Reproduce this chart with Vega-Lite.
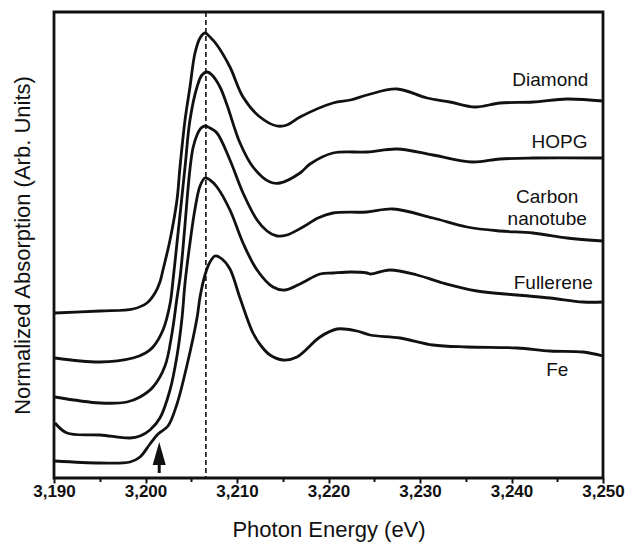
{
  "$schema": "https://vega.github.io/schema/vega-lite/v6.json",
  "width": 549,
  "height": 466,
  "autosize": {"type": "none"},
  "padding": {"left": 54, "top": 12, "right": 25, "bottom": 64},
  "config": {
    "view": {"stroke": "#111", "strokeWidth": 2.8},
    "font": "Liberation Sans",
    "axis": {"grid": false, "domain": false, "titleFontWeight": "normal", "titleColor": "#111", "labelColor": "#111", "tickColor": "#111"}
  },
  "datasets": {
    "curves": [
      {"s": "Diamond", "x": 3190.11, "y": 165}, {"s": "Diamond", "x": 3195.03, "y": 167}, {"s": "Diamond", "x": 3198.63, "y": 169}, {"s": "Diamond", "x": 3200.16, "y": 175}, {"s": "Diamond", "x": 3201.04, "y": 185}, {"s": "Diamond", "x": 3201.58, "y": 196}, {"s": "Diamond", "x": 3201.91, "y": 208}, {"s": "Diamond", "x": 3202.68, "y": 238}, {"s": "Diamond", "x": 3203.44, "y": 278}, {"s": "Diamond", "x": 3203.77, "y": 311}, {"s": "Diamond", "x": 3204.32, "y": 358}, {"s": "Diamond", "x": 3204.86, "y": 391}, {"s": "Diamond", "x": 3205.41, "y": 425}, {"s": "Diamond", "x": 3205.96, "y": 440}, {"s": "Diamond", "x": 3206.5, "y": 445}, {"s": "Diamond", "x": 3207.05, "y": 441}, {"s": "Diamond", "x": 3207.81, "y": 433}, {"s": "Diamond", "x": 3209.23, "y": 411}, {"s": "Diamond", "x": 3210.66, "y": 381}, {"s": "Diamond", "x": 3212.51, "y": 361}, {"s": "Diamond", "x": 3214.37, "y": 352}, {"s": "Diamond", "x": 3215.46, "y": 353}, {"s": "Diamond", "x": 3216.89, "y": 361}, {"s": "Diamond", "x": 3220.49, "y": 375}, {"s": "Diamond", "x": 3222.4, "y": 378}, {"s": "Diamond", "x": 3224.21, "y": 383}, {"s": "Diamond", "x": 3227.49, "y": 389}, {"s": "Diamond", "x": 3230.77, "y": 380}, {"s": "Diamond", "x": 3233.28, "y": 376}, {"s": "Diamond", "x": 3236.01, "y": 371}, {"s": "Diamond", "x": 3238.74, "y": 375}, {"s": "Diamond", "x": 3242.35, "y": 376}, {"s": "Diamond", "x": 3246.07, "y": 379}, {"s": "Diamond", "x": 3250, "y": 377},
      {"s": "HOPG", "x": 3190.11, "y": 120}, {"s": "HOPG", "x": 3195.03, "y": 116}, {"s": "HOPG", "x": 3198.63, "y": 120}, {"s": "HOPG", "x": 3200.0, "y": 125}, {"s": "HOPG", "x": 3200.82, "y": 131}, {"s": "HOPG", "x": 3201.91, "y": 148}, {"s": "HOPG", "x": 3202.68, "y": 174}, {"s": "HOPG", "x": 3203.01, "y": 198}, {"s": "HOPG", "x": 3203.44, "y": 235}, {"s": "HOPG", "x": 3203.77, "y": 263}, {"s": "HOPG", "x": 3204.32, "y": 311}, {"s": "HOPG", "x": 3204.86, "y": 358}, {"s": "HOPG", "x": 3205.63, "y": 391}, {"s": "HOPG", "x": 3206.17, "y": 403}, {"s": "HOPG", "x": 3206.72, "y": 406}, {"s": "HOPG", "x": 3207.27, "y": 403}, {"s": "HOPG", "x": 3208.14, "y": 391}, {"s": "HOPG", "x": 3208.91, "y": 373}, {"s": "HOPG", "x": 3210.33, "y": 335}, {"s": "HOPG", "x": 3211.75, "y": 311}, {"s": "HOPG", "x": 3213.61, "y": 296}, {"s": "HOPG", "x": 3214.7, "y": 295}, {"s": "HOPG", "x": 3216.89, "y": 305}, {"s": "HOPG", "x": 3217.98, "y": 314}, {"s": "HOPG", "x": 3220.49, "y": 325}, {"s": "HOPG", "x": 3224.21, "y": 326}, {"s": "HOPG", "x": 3227.49, "y": 329}, {"s": "HOPG", "x": 3231.42, "y": 323}, {"s": "HOPG", "x": 3235.68, "y": 316}, {"s": "HOPG", "x": 3238.74, "y": 319}, {"s": "HOPG", "x": 3242.35, "y": 320}, {"s": "HOPG", "x": 3250, "y": 320},
      {"s": "CNT", "x": 3190.11, "y": 81}, {"s": "CNT", "x": 3195.03, "y": 75}, {"s": "CNT", "x": 3197.98, "y": 76}, {"s": "CNT", "x": 3199.4, "y": 81}, {"s": "CNT", "x": 3200.82, "y": 91}, {"s": "CNT", "x": 3202.13, "y": 112}, {"s": "CNT", "x": 3202.9, "y": 145}, {"s": "CNT", "x": 3203.44, "y": 180}, {"s": "CNT", "x": 3203.77, "y": 200}, {"s": "CNT", "x": 3204.1, "y": 230}, {"s": "CNT", "x": 3204.54, "y": 278}, {"s": "CNT", "x": 3204.86, "y": 309}, {"s": "CNT", "x": 3205.19, "y": 330}, {"s": "CNT", "x": 3205.63, "y": 343}, {"s": "CNT", "x": 3206.07, "y": 350}, {"s": "CNT", "x": 3206.5, "y": 352}, {"s": "CNT", "x": 3207.05, "y": 350}, {"s": "CNT", "x": 3207.81, "y": 345}, {"s": "CNT", "x": 3209.23, "y": 318}, {"s": "CNT", "x": 3210.66, "y": 285}, {"s": "CNT", "x": 3212.19, "y": 258}, {"s": "CNT", "x": 3213.28, "y": 247}, {"s": "CNT", "x": 3214.37, "y": 242}, {"s": "CNT", "x": 3215.46, "y": 243}, {"s": "CNT", "x": 3217.21, "y": 251}, {"s": "CNT", "x": 3218.85, "y": 260}, {"s": "CNT", "x": 3220.49, "y": 265}, {"s": "CNT", "x": 3224.21, "y": 266}, {"s": "CNT", "x": 3227.05, "y": 269}, {"s": "CNT", "x": 3231.42, "y": 260}, {"s": "CNT", "x": 3235.14, "y": 251}, {"s": "CNT", "x": 3238.74, "y": 247}, {"s": "CNT", "x": 3242.35, "y": 245}, {"s": "CNT", "x": 3246.07, "y": 240}, {"s": "CNT", "x": 3250, "y": 237},
      {"s": "Fullerene", "x": 3190.11, "y": 55}, {"s": "Fullerene", "x": 3191.42, "y": 45}, {"s": "Fullerene", "x": 3195.03, "y": 43}, {"s": "Fullerene", "x": 3198.31, "y": 40}, {"s": "Fullerene", "x": 3199.4, "y": 42}, {"s": "Fullerene", "x": 3200.49, "y": 48}, {"s": "Fullerene", "x": 3201.58, "y": 60}, {"s": "Fullerene", "x": 3202.68, "y": 88}, {"s": "Fullerene", "x": 3203.44, "y": 122}, {"s": "Fullerene", "x": 3203.99, "y": 160}, {"s": "Fullerene", "x": 3204.32, "y": 195}, {"s": "Fullerene", "x": 3204.86, "y": 235}, {"s": "Fullerene", "x": 3205.41, "y": 269}, {"s": "Fullerene", "x": 3205.96, "y": 292}, {"s": "Fullerene", "x": 3206.5, "y": 300}, {"s": "Fullerene", "x": 3207.05, "y": 298}, {"s": "Fullerene", "x": 3207.81, "y": 291}, {"s": "Fullerene", "x": 3209.23, "y": 268}, {"s": "Fullerene", "x": 3210.66, "y": 235}, {"s": "Fullerene", "x": 3212.19, "y": 208}, {"s": "Fullerene", "x": 3213.93, "y": 191}, {"s": "Fullerene", "x": 3215.25, "y": 188}, {"s": "Fullerene", "x": 3216.89, "y": 194}, {"s": "Fullerene", "x": 3219.07, "y": 204}, {"s": "Fullerene", "x": 3220.49, "y": 205}, {"s": "Fullerene", "x": 3222.4, "y": 206}, {"s": "Fullerene", "x": 3224.21, "y": 205}, {"s": "Fullerene", "x": 3224.6, "y": 204}, {"s": "Fullerene", "x": 3226.72, "y": 208}, {"s": "Fullerene", "x": 3229.67, "y": 203}, {"s": "Fullerene", "x": 3232.51, "y": 195}, {"s": "Fullerene", "x": 3236.23, "y": 187}, {"s": "Fullerene", "x": 3240.6, "y": 183}, {"s": "Fullerene", "x": 3244.21, "y": 180}, {"s": "Fullerene", "x": 3247.81, "y": 176}, {"s": "Fullerene", "x": 3250, "y": 176},
      {"s": "Fe", "x": 3190.11, "y": 17}, {"s": "Fe", "x": 3195.03, "y": 15}, {"s": "Fe", "x": 3198.31, "y": 16}, {"s": "Fe", "x": 3199.4, "y": 21}, {"s": "Fe", "x": 3200.49, "y": 34}, {"s": "Fe", "x": 3201.37, "y": 44}, {"s": "Fe", "x": 3202.46, "y": 52}, {"s": "Fe", "x": 3203.44, "y": 74}, {"s": "Fe", "x": 3204.54, "y": 113}, {"s": "Fe", "x": 3205.63, "y": 160}, {"s": "Fe", "x": 3205.96, "y": 181}, {"s": "Fe", "x": 3206.5, "y": 203}, {"s": "Fe", "x": 3207.05, "y": 216}, {"s": "Fe", "x": 3207.6, "y": 222}, {"s": "Fe", "x": 3208.36, "y": 219}, {"s": "Fe", "x": 3209.23, "y": 209}, {"s": "Fe", "x": 3210.33, "y": 180}, {"s": "Fe", "x": 3211.75, "y": 145}, {"s": "Fe", "x": 3212.73, "y": 131}, {"s": "Fe", "x": 3213.61, "y": 123}, {"s": "Fe", "x": 3215.03, "y": 118}, {"s": "Fe", "x": 3216.56, "y": 121}, {"s": "Fe", "x": 3219.07, "y": 141}, {"s": "Fe", "x": 3220.93, "y": 149}, {"s": "Fe", "x": 3223.11, "y": 147}, {"s": "Fe", "x": 3224.54, "y": 143}, {"s": "Fe", "x": 3227.81, "y": 140}, {"s": "Fe", "x": 3231.42, "y": 133}, {"s": "Fe", "x": 3235.14, "y": 131}, {"s": "Fe", "x": 3240.6, "y": 130}, {"s": "Fe", "x": 3244.21, "y": 127}, {"s": "Fe", "x": 3247.81, "y": 126}, {"s": "Fe", "x": 3250, "y": 122}
    ],
    "marker": [{"x": 3206.6}],
    "arrow": [{"x": 3201.5, "y0": 5, "y1": 15, "head": 24.5}],
    "labelsRight": [
      {"label": "Diamond", "x": 3248.4, "y": 398},
      {"label": "HOPG", "x": 3248.3, "y": 336},
      {"label": "Fullerene", "x": 3248.9, "y": 195}
    ],
    "labelsCenter": [
      {"label": "Carbon\nnanotube", "x": 3243.9, "y": 281},
      {"label": "Fe", "x": 3245.0, "y": 108}
    ]
  },
  "layer": [
    {
      "data": {"name": "curves"},
      "mark": {"type": "line", "interpolate": "catmull-rom", "color": "#111", "strokeWidth": 2.8, "strokeJoin": "round"},
      "encoding": {
        "x": {
          "field": "x", "type": "quantitative",
          "scale": {"domain": [3190, 3250], "nice": false},
          "axis": {
            "title": "Photon Energy (eV)",
            "titleFontSize": 22,
            "titlePadding": 20,
            "values": [3190, 3195, 3200, 3205, 3210, 3215, 3220, 3225, 3230, 3235, 3240, 3245, 3250],
            "labelExpr": "datum.value % 10 === 0 ? format(datum.value, ',') : ''",
            "labelFontSize": 17,
            "labelFontWeight": "bold",
            "labelPadding": 0,
            "labelFlush": false,
            "labelOverlap": false,
            "tickSize": {"condition": {"test": "datum.value % 10 === 0", "value": 5}, "value": 3.5},
            "tickWidth": 2
          }
        },
        "y": {
          "field": "y", "type": "quantitative",
          "scale": {"domain": [0, 466], "nice": false},
          "axis": {
            "title": "Normalized Absorption (Arb. Units)",
            "titleFontSize": 22,
            "titlePadding": 20,
            "labels": false,
            "ticks": false
          }
        },
        "detail": {"field": "s"}
      }
    },
    {
      "data": {"name": "marker"},
      "mark": {"type": "rule", "strokeDash": [5, 3], "strokeWidth": 1.6, "color": "#111"},
      "encoding": {"x": {"field": "x", "type": "quantitative"}}
    },
    {
      "data": {"name": "arrow"},
      "mark": {"type": "rule", "strokeWidth": 3, "color": "#111"},
      "encoding": {
        "x": {"field": "x", "type": "quantitative"},
        "y": {"field": "y0", "type": "quantitative"},
        "y2": {"field": "y1"}
      }
    },
    {
      "data": {"name": "arrow"},
      "mark": {"type": "point", "shape": "M0,-1L-0.57,1L0.57,1Z", "filled": true, "size": 529, "color": "#111", "opacity": 1},
      "encoding": {
        "x": {"field": "x", "type": "quantitative"},
        "y": {"field": "head", "type": "quantitative"}
      }
    },
    {
      "data": {"name": "labelsRight"},
      "mark": {"type": "text", "align": "right", "baseline": "middle", "fontSize": 19, "color": "#111"},
      "encoding": {
        "x": {"field": "x", "type": "quantitative"},
        "y": {"field": "y", "type": "quantitative"},
        "text": {"field": "label"}
      }
    },
    {
      "data": {"name": "labelsCenter"},
      "mark": {"type": "text", "align": "center", "baseline": "middle", "fontSize": 19, "lineHeight": 22, "lineBreak": "\n", "color": "#111"},
      "encoding": {
        "x": {"field": "x", "type": "quantitative"},
        "y": {"field": "y", "type": "quantitative"},
        "text": {"field": "label"}
      }
    }
  ]
}
